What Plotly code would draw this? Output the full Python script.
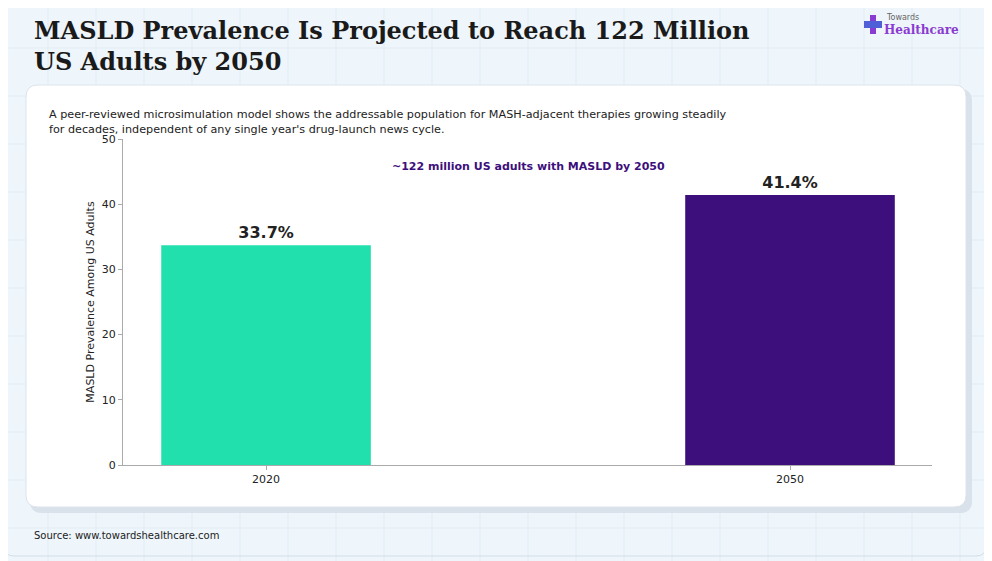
import plotly.graph_objects as go

years = ["2020", "2050"]
prevalence = [33.7, 41.4]
bar_labels = ["<b>33.7%</b>", "<b>41.4%</b>"]
bar_colors = ["#22e0ad", "#3d0f7c"]

# screen pixel layout (page body has an 8px margin)
W, H = 992, 561
OFF = 8
L, R, T, B = 123, 932, 139, 465


def px(x):
    return (x - L) / (R - L)


def py(y):
    return (B - y) / (B - T)


fig = go.Figure()
fig.add_trace(go.Bar(
    x=[0, 1], y=prevalence, width=0.4,
    marker=dict(color=bar_colors, line=dict(width=0)),
    text=bar_labels, textposition="outside",
    textfont=dict(size=16, color="#222222", family="DejaVu Sans"),
    cliponaxis=False, hoverinfo="skip",
))

shapes = []
# faint background grid
for gx in range(0, W, 48):
    shapes.append(dict(type="line", xref="paper", yref="paper", layer="below",
                       x0=px(gx), x1=px(gx), y0=py(0), y1=py(H),
                       line=dict(color="#e2ecf5", width=1)))
for gy in range(0, H, 48):
    shapes.append(dict(type="line", xref="paper", yref="paper", layer="below",
                       x0=px(0), x1=px(W), y0=py(gy), y1=py(gy),
                       line=dict(color="#e2ecf5", width=1)))


def rounded(x0, y0, x1, y1, r):
    return (f"M {px(x0+r)},{py(y0)} L {px(x1-r)},{py(y0)} "
            f"Q {px(x1)},{py(y0)} {px(x1)},{py(y0+r)} L {px(x1)},{py(y1-r)} "
            f"Q {px(x1)},{py(y1)} {px(x1-r)},{py(y1)} L {px(x0+r)},{py(y1)} "
            f"Q {px(x0)},{py(y1)} {px(x0)},{py(y1-r)} L {px(x0)},{py(y0+r)} "
            f"Q {px(x0)},{py(y0)} {px(x0+r)},{py(y0)} Z")


# outer frame, card shadow, card
shapes.append(dict(type="path", xref="paper", yref="paper", layer="below",
                   path=rounded(4, 4, 986, 556, 10),
                   fillcolor="rgba(0,0,0,0)", line=dict(color="#d3dde8", width=1)))
shapes.append(dict(type="path", xref="paper", yref="paper", layer="below",
                   path=rounded(30, 89, 972, 513, 12),
                   fillcolor="#d9e1ea", line=dict(width=0)))
shapes.append(dict(type="path", xref="paper", yref="paper", layer="below",
                   path=rounded(26, 85, 966, 507, 12),
                   fillcolor="white", line=dict(color="#dde4ec", width=1)))
# logo cross
shapes.append(dict(type="rect", xref="paper", yref="paper",
                   x0=px(870), x1=px(876), y0=py(15), y1=py(34),
                   fillcolor="#8a3bd1", line=dict(width=0)))
shapes.append(dict(type="rect", xref="paper", yref="paper",
                   x0=px(864), x1=px(882), y0=py(21), y1=py(28),
                   fillcolor="#4f5fd8", line=dict(width=0)))

annotations = [
    dict(text="<b>MASLD Prevalence Is Projected to Reach 122 Million<br>US Adults by 2050</b>",
         x=px(32), y=py(14), xref="paper", yref="paper", xanchor="left", yanchor="top",
         align="left", showarrow=False,
         font=dict(family="DejaVu Serif", size=24, color="#1a1a1a")),
    dict(text="A peer-reviewed microsimulation model shows the addressable population for MASH-adjacent therapies growing steadily<br>for decades, independent of any single year's drug-launch news cycle.",
         x=px(47), y=py(106), xref="paper", yref="paper", xanchor="left", yanchor="top",
         align="left", showarrow=False,
         font=dict(family="DejaVu Sans", size=11.2, color="#222222")),
    dict(text="<b>~122 million US adults with MASLD by 2050</b>",
         x=px(528), y=py(167), xref="paper", yref="paper", xanchor="center", yanchor="middle",
         showarrow=False, font=dict(family="DejaVu Sans", size=11, color="#3d0f7c")),
    dict(text="Source: www.towardshealthcare.com",
         x=px(32), y=py(535), xref="paper", yref="paper", xanchor="left", yanchor="middle",
         showarrow=False, font=dict(family="DejaVu Sans", size=10, color="#222222")),
    dict(text="Towards", x=px(884), y=py(18), xref="paper", yref="paper",
         xanchor="left", yanchor="middle", showarrow=False,
         font=dict(family="DejaVu Sans", size=8, color="#666666")),
    dict(text="<b>Healthcare</b>", x=px(882), y=py(30), xref="paper", yref="paper",
         xanchor="left", yanchor="middle", showarrow=False,
         font=dict(family="DejaVu Serif", size=12, color="#8a3bd1")),
]

fig.update_layout(
    width=W - OFF, height=H - OFF,
    margin=dict(l=L - OFF, r=W - R, t=T - OFF, b=H - B),
    paper_bgcolor="#eef5fb", plot_bgcolor="rgba(0,0,0,0)",
    showlegend=False, shapes=shapes, annotations=annotations,
    font=dict(family="DejaVu Sans", size=11, color="#222222"),
    xaxis=dict(range=[-0.273, 1.271], tickvals=[0, 1], ticktext=years,
               showgrid=False, zeroline=False, showline=True, linecolor="#aaaaaa",
               ticks="outside", ticklen=4, tickcolor="#aaaaaa", fixedrange=True),
    yaxis=dict(range=[0, 50], dtick=10, showgrid=False, zeroline=False,
               showline=True, linecolor="#aaaaaa", ticks="outside", ticklen=4,
               tickcolor="#aaaaaa",
               title=dict(text="MASLD Prevalence Among US Adults", standoff=4,
                          font=dict(size=11))),
)

fig.write_html("out.html")
